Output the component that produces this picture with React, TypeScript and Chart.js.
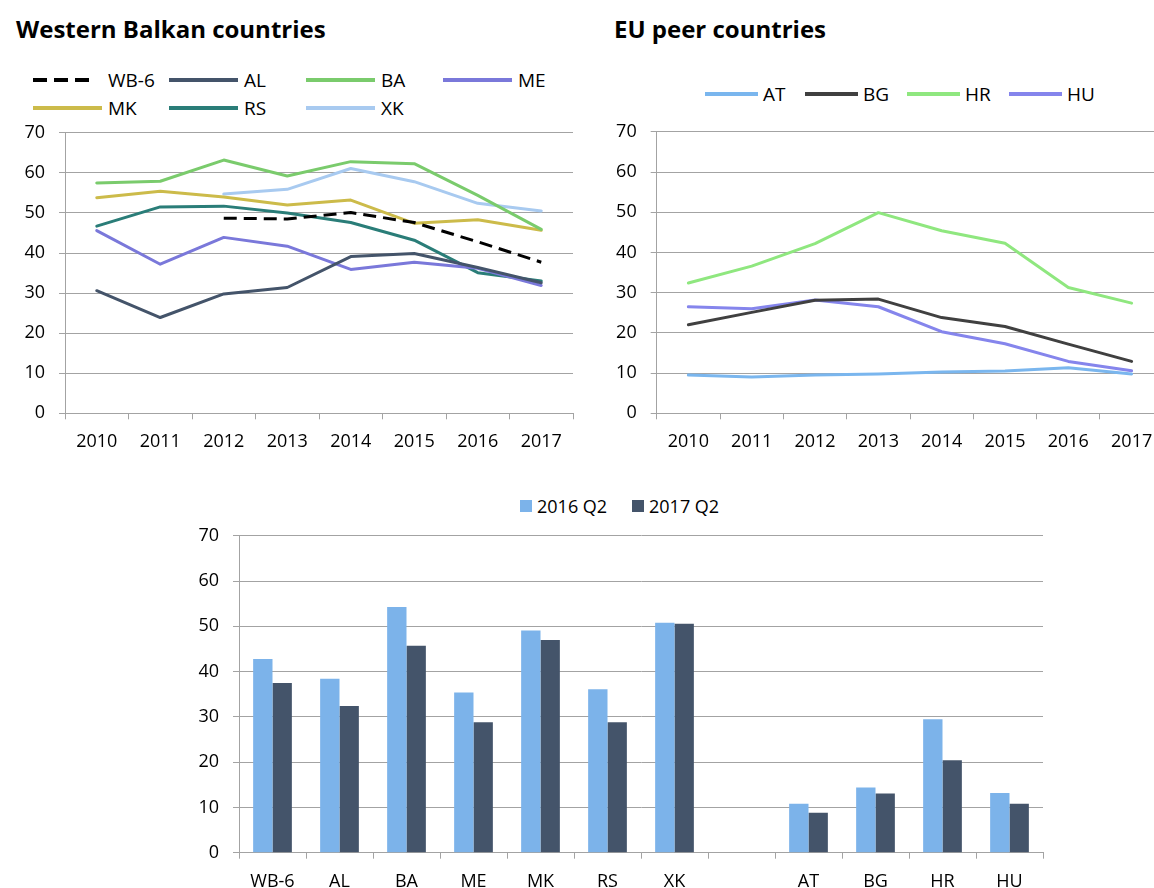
import React, { useEffect, useRef } from "react";
import { Chart, registerables } from "chart.js";

Chart.register(...registerables);

const FONT = "'Open Sans', 'Noto Sans', sans-serif";
const GRID = "#a3a3a3";

// ---- data ----
const years = ["2010", "2011", "2012", "2013", "2014", "2015", "2016", "2017"];

const wb6 = [null, null, 48.7, 48.5, 50.1, 47.6, 42.8, 37.7];
const al = [30.6, 23.9, 29.8, 31.4, 39.1, 39.9, 36.4, 32.6];
const ba = [57.5, 57.9, 63.2, 59.2, 62.8, 62.3, 54.4, 45.9];
const me = [45.6, 37.2, 43.9, 41.7, 35.9, 37.7, 36.2, 31.9];
const mk = [53.8, 55.4, 54.0, 52.0, 53.2, 47.4, 48.3, 45.7];
const rs = [46.7, 51.5, 51.7, 50.0, 47.6, 43.2, 35.1, 33.0];
const xk = [null, null, 54.7, 55.9, 61.1, 57.8, 52.4, 50.5];

const at = [9.5, 9.0, 9.5, 9.8, 10.3, 10.5, 11.3, 9.8];
const bg = [22.0, 25.1, 28.1, 28.4, 23.8, 21.6, 17.2, 12.9];
const hr = [32.4, 36.6, 42.2, 49.9, 45.4, 42.3, 31.3, 27.4];
const hu = [26.5, 26.0, 28.2, 26.5, 20.3, 17.3, 12.9, 10.6];

const barCategories = ["WB-6", "AL", "BA", "ME", "MK", "RS", "XK", "", "AT", "BG", "HR", "HU"];
const q2016 = [42.8, 38.4, 54.3, 35.4, 49.1, 36.1, 50.8, null, 10.8, 14.4, 29.5, 13.2];
const q2017 = [37.5, 32.4, 45.7, 28.8, 47.0, 28.8, 50.6, null, 8.8, 13.1, 20.4, 10.8];

const yMin = 0;
const yMax = 70;
const yStep = 10;

// ---- styles ----
const wbSeries = [
  { label: "WB-6", data: wb6, color: "#000000", dash: [13, 7] },
  { label: "AL", data: al, color: "#44546a" },
  { label: "BA", data: ba, color: "#7acb6c" },
  { label: "ME", data: me, color: "#7a78da" },
  { label: "MK", data: mk, color: "#ccbb4a" },
  { label: "RS", data: rs, color: "#2a7d78" },
  { label: "XK", data: xk, color: "#a8caf0" },
];

const euSeries = [
  { label: "AT", data: at, color: "#7ab6ee" },
  { label: "BG", data: bg, color: "#404040" },
  { label: "HR", data: hr, color: "#8fe77f" },
  { label: "HU", data: hu, color: "#8585ec" },
];

const barSeries = [
  { label: "2016 Q2", data: q2016, color: "#7cb3ea" },
  { label: "2017 Q2", data: q2017, color: "#44546a" },
];

function axisCommon(tickSize: number, xPad: number) {
  return {
    x: {
      type: "category" as const,
      offset: true,
      grid: {
        offset: true,
        drawOnChartArea: false,
        drawTicks: true,
        tickLength: 6,
        color: GRID,
        lineWidth: 1,
      },
      border: { color: GRID, width: 1 },
      ticks: {
        font: { family: FONT, size: tickSize },
        color: "#000",
        padding: xPad,
        maxRotation: 0,
        autoSkip: false,
      },
    },
    y: {
      min: yMin,
      max: yMax,
      grid: { color: GRID, lineWidth: 1, tickLength: 6, drawTicks: true },
      border: { color: GRID, width: 1 },
      ticks: {
        stepSize: yStep,
        font: { family: FONT, size: tickSize },
        color: "#000",
        padding: 14,
      },
    },
  };
}

type LineProps = {
  left: number;
  top: number;
  width: number;
  height: number;
  series: { label: string; data: (number | null)[]; color: string; dash?: number[] }[];
  padRight: number;
  yWidth: number;
  xHeight: number;
};

function LineChartBox(p: LineProps) {
  const ref = useRef<HTMLCanvasElement | null>(null);
  useEffect(() => {
    if (!ref.current) return;
    const axes: any = axisCommon(18, 12);
    axes.y.afterFit = (s: any) => {
      s.width = p.yWidth;
    };
    axes.x.afterFit = (s: any) => {
      s.height = p.xHeight;
    };
    const chart = new Chart(ref.current, {
      type: "line",
      data: {
        labels: years,
        datasets: p.series.map((s) => ({
          label: s.label,
          data: s.data,
          borderColor: s.color,
          backgroundColor: s.color,
          borderWidth: 3,
          borderDash: s.dash || [],
          pointRadius: 0,
          pointHoverRadius: 0,
          tension: 0,
          fill: false,
          borderJoinStyle: "round" as const,
          borderCapStyle: s.dash ? ("butt" as const) : ("round" as const),
        })),
      },
      options: {
        responsive: false,
        animation: false,
        layout: { padding: { top: 0, right: p.padRight, left: 0, bottom: 0 } },
        plugins: { legend: { display: false }, tooltip: { enabled: false }, title: { display: false } },
        scales: axes,
      },
    });
    return () => chart.destroy();
  }, []);
  return (
    <canvas
      ref={ref}
      width={p.width}
      height={p.height}
      style={{ position: "absolute", left: p.left, top: p.top, width: p.width, height: p.height }}
    />
  );
}

function BarChartBox() {
  const ref = useRef<HTMLCanvasElement | null>(null);
  useEffect(() => {
    if (!ref.current) return;
    const axes: any = axisCommon(18, 12);
    axes.y.afterFit = (s: any) => {
      s.width = 59;
    };
    axes.x.afterFit = (s: any) => {
      s.height = 35.3;
    };
    const chart = new Chart(ref.current, {
      type: "bar",
      data: {
        labels: barCategories,
        datasets: barSeries.map((s) => ({
          label: s.label,
          data: s.data,
          backgroundColor: s.color,
          borderWidth: 0,
          categoryPercentage: 0.578,
          barPercentage: 1.0,
        })),
      },
      options: {
        responsive: false,
        animation: false,
        layout: { padding: { top: 0, right: 17, left: 0, bottom: 0 } },
        plugins: { legend: { display: false }, tooltip: { enabled: false } },
        scales: axes,
      },
    });
    return () => chart.destroy();
  }, []);
  return (
    <canvas
      ref={ref}
      width={880}
      height={377}
      style={{ position: "absolute", left: 180, top: 511, width: 880, height: 377 }}
    />
  );
}

function LineLegendItem(props: {
  x: number;
  y: number;
  color: string;
  label: string;
  len: number;
  gap: number;
  dash?: string;
  sampleLen?: number;
}) {
  const sl = props.sampleLen ?? props.len;
  return (
    <div
      style={{
        position: "absolute",
        left: props.x,
        top: props.y - 13,
        height: 26,
        display: "flex",
        alignItems: "center",
        whiteSpace: "nowrap",
      }}
    >
      <svg width={props.len} height={8} style={{ display: "block" }}>
        <line
          x1={0}
          y1={4}
          x2={sl}
          y2={4}
          stroke={props.color}
          strokeWidth={4}
          strokeDasharray={props.dash}
        />
      </svg>
      <span
        style={{
          marginLeft: props.gap,
          fontFamily: FONT,
          fontSize: 19,
          lineHeight: "26px",
          color: "#000",
        }}
      >
        {props.label}
      </span>
    </div>
  );
}

function BoxLegendItem(props: { x: number; y: number; color: string; label: string }) {
  return (
    <div
      style={{
        position: "absolute",
        left: props.x,
        top: props.y - 13,
        height: 26,
        display: "flex",
        alignItems: "center",
        whiteSpace: "nowrap",
      }}
    >
      <div style={{ width: 12, height: 12, background: props.color }} />
      <span
        style={{
          marginLeft: 5,
          fontFamily: FONT,
          fontSize: 18,
          lineHeight: "26px",
          color: "#000",
        }}
      >
        {props.label}
      </span>
    </div>
  );
}

const titleStyle = (left: number): React.CSSProperties => ({
  position: "absolute",
  left,
  top: 16,
  fontFamily: FONT,
  fontWeight: 700,
  fontSize: 24,
  lineHeight: "26px",
  color: "#000",
  whiteSpace: "nowrap",
});

export default function App() {
  const wbCols = [33, 169, 306, 443];
  const wbRows = [80, 108];
  const euCols = [705, 805, 907, 1009];
  const barLegendX = [520, 632];
  return (
    <div
      style={{
        position: "absolute",
        left: 0,
        top: 0,
        width: 1154,
        height: 888,
        overflow: "hidden",
        background: "#fff",
      }}
    >
      <div style={titleStyle(16)}>Western Balkan countries</div>
      <div style={titleStyle(614)}>EU peer countries</div>

      {wbSeries.map((s, i) => (
        <LineLegendItem
          key={s.label}
          x={wbCols[i % 4]}
          y={wbRows[Math.floor(i / 4)]}
          color={s.color}
          label={s.label}
          len={69}
          gap={6}
          dash={s.dash ? "14 7" : undefined}
          sampleLen={s.dash ? 56 : 69}
        />
      ))}

      {euSeries.map((s, i) => (
        <LineLegendItem
          key={s.label}
          x={euCols[i]}
          y={94}
          color={s.color}
          label={s.label}
          len={53}
          gap={5}
        />
      ))}

      {barSeries.map((s, i) => (
        <BoxLegendItem key={s.label} x={barLegendX[i]} y={506} color={s.color} label={s.label} />
      ))}

      <LineChartBox
        left={0}
        top={108}
        width={580}
        height={352}
        series={wbSeries}
        padRight={7}
        yWidth={65}
        xHeight={46.7}
      />
      <LineChartBox
        left={592}
        top={107}
        width={580}
        height={353}
        series={euSeries}
        padRight={8.7}
        yWidth={64.7}
        xHeight={46.7}
      />
      <BarChartBox />
    </div>
  );
}
